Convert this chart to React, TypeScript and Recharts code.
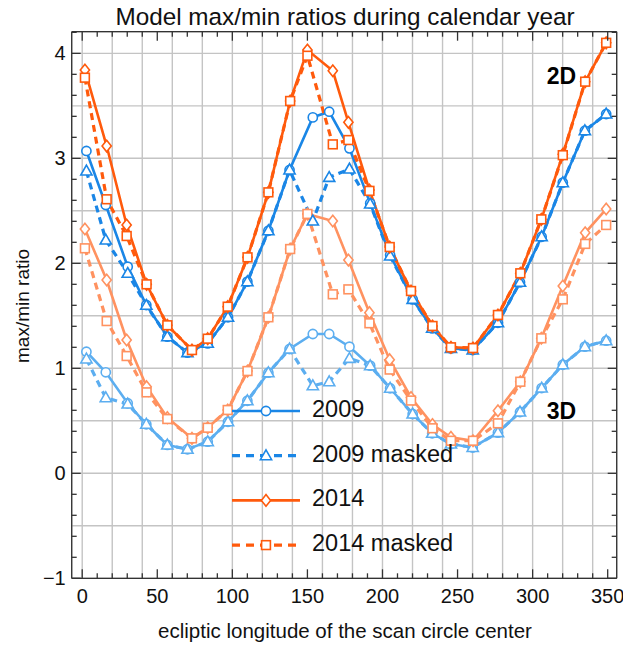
import React from 'react'
import { LineChart, Line, XAxis, YAxis, CartesianGrid } from 'recharts'

// ecliptic longitude of scan circle centres (deg)
const x2009 = [2.8, 15.7, 30.3, 42.7, 56.7, 70.1, 83.6, 97.1, 110, 124, 138.1, 153.6, 164.5, 178, 191.8, 205.1, 220.1, 233.1, 245.6, 260.1, 276.9, 291.6, 306, 320.1, 334.8, 349]
const x2014 = [1.8, 16.3, 29.6, 42.9, 56.7, 73.1, 83.6, 96.9, 110.1, 124, 138.5, 150, 166.9, 177.3, 191.3, 204.8, 219, 233.3, 245.6, 260.3, 276.9, 291.8, 305.8, 320.1, 335, 349]

// 2D ratios
const r2009 = [3.07, 2.555, 1.968, 1.603, 1.301, 1.149, 1.238, 1.486, 1.825, 2.31, 2.889, 3.39, 3.444, 3.095, 2.571, 2.079, 1.657, 1.381, 1.19, 1.174, 1.434, 1.819, 2.253, 2.768, 3.263, 3.422]
const r2009m = [2.879, 2.222, 1.905, 1.6, 1.301, 1.149, 1.238, 1.486, 1.825, 2.31, 2.889, 2.403, 2.819, 2.898, 2.565, 2.07, 1.657, 1.381, 1.19, 1.174, 1.434, 1.819, 2.253, 2.768, 3.263, 3.422]
const r2014 = [3.841, 3.117, 2.365, 1.8, 1.41, 1.174, 1.282, 1.587, 2.057, 2.676, 3.546, 4.031, 3.834, 3.343, 2.698, 2.155, 1.736, 1.403, 1.2, 1.193, 1.508, 1.905, 2.419, 3.038, 3.73, 4.1]
const r2014m = [3.768, 2.61, 2.26, 1.8, 1.41, 1.174, 1.282, 1.587, 2.057, 2.676, 3.546, 3.977, 3.133, 3.174, 2.69, 2.155, 1.736, 1.403, 1.2, 1.193, 1.508, 1.905, 2.419, 3.03, 3.73, 4.1]

// 3D ratios
const s2009 = [1.158, 0.962, 0.667, 0.467, 0.27, 0.229, 0.301, 0.491, 0.691, 0.958, 1.184, 1.327, 1.327, 1.206, 1.025, 0.81, 0.565, 0.381, 0.279, 0.246, 0.387, 0.584, 0.812, 1.034, 1.206, 1.263]
const s2009m = [1.089, 0.72, 0.66, 0.467, 0.27, 0.229, 0.301, 0.491, 0.691, 0.958, 1.184, 0.834, 0.872, 1.095, 1.025, 0.81, 0.565, 0.381, 0.279, 0.246, 0.387, 0.584, 0.812, 1.034, 1.206, 1.263]
const s2014 = [2.327, 1.841, 1.27, 0.825, 0.53, 0.333, 0.434, 0.603, 0.974, 1.486, 2.136, 2.47, 2.403, 2.031, 1.53, 1.082, 0.722, 0.465, 0.343, 0.31, 0.596, 0.872, 1.286, 1.784, 2.291, 2.517]
const s2014m = [2.143, 1.45, 1.117, 0.771, 0.517, 0.333, 0.434, 0.603, 0.974, 1.486, 2.136, 2.47, 1.705, 1.752, 1.429, 0.988, 0.693, 0.429, 0.31, 0.31, 0.476, 0.872, 1.286, 1.657, 2.185, 2.365]

const legendLabels = ['2009', '2009 masked', '2014', '2014 masked']

const BLUE = '#1a86e6'
const BLUE_L = '#5caef0'
const ORANGE = '#ff5a0c'
const ORANGE_L = '#ff9260'
const FONT = '"Liberation Sans", Arial, sans-serif'

const X_DOMAIN: [number, number] = [-7, 356]
const Y_DOMAIN: [number, number] = [-1, 4.206]

const xTicks = Array.from({ length: 36 }, (_, i) => i * 10)
const yTicks = Array.from({ length: 27 }, (_, i) => Math.round((-1 + i * 0.2) * 10) / 10)
const xGrid = Array.from({ length: 18 }, (_, i) => i * 20)
const yGrid = Array.from({ length: 10 }, (_, i) => -0.5 + i * 0.5)

const rows = (xs: number[], ys: number[]) => xs.map((x, i) => ({ x, y: ys[i] }))

type Shape = 'circle' | 'triangle' | 'diamond' | 'square'

function Marker({ shape, color, x, y }: { shape: Shape; color: string; x: number; y: number }) {
  const common = { fill: '#fff', stroke: color, strokeWidth: 1.6 }
  if (shape === 'circle') return <circle cx={x} cy={y} r={4.6} {...common} />
  if (shape === 'triangle')
    return <polygon points={`${x},${y - 5.8} ${x + 5.6},${y + 4} ${x - 5.6},${y + 4}`} {...common} />
  if (shape === 'diamond')
    return <polygon points={`${x},${y - 5.8} ${x + 4.6},${y} ${x},${y + 5.8} ${x - 4.6},${y}`} {...common} />
  return <rect x={x - 4.4} y={y - 4.4} width={8.8} height={8.8} {...common} />
}

const makeDot = (shape: Shape, color: string) => (p: any) => {
  const { cx, cy, index } = p
  if (cx == null || cy == null) return <g key={index} />
  return <Marker key={index} shape={shape} color={color} x={cx} y={cy} />
}

const isMajor = (v: number, step: number) => Math.abs(v / step - Math.round(v / step)) < 1e-6

const BottomTick = (p: any) => {
  const v = p.payload.value
  const major = isMajor(v, 50)
  return (
    <g>
      <line x1={p.x} x2={p.x} y1={p.y} y2={p.y - (major ? 9 : 5)} stroke="#333" strokeWidth={1.3} />
      {major && (
        <text x={p.x} y={p.y + 25} textAnchor="middle" fontSize={20} fontFamily={FONT} fill="#111">
          {v}
        </text>
      )}
    </g>
  )
}
const TopTick = (p: any) => {
  const major = isMajor(p.payload.value, 50)
  return <line x1={p.x} x2={p.x} y1={p.y} y2={p.y + (major ? 9 : 5)} stroke="#333" strokeWidth={1.3} />
}
const LeftTick = (p: any) => {
  const v = p.payload.value
  const major = isMajor(v, 1)
  return (
    <g>
      <line x1={p.x} x2={p.x + (major ? 9 : 5)} y1={p.y} y2={p.y} stroke="#333" strokeWidth={1.3} />
      {major && (
        <text x={p.x - 6} y={p.y + 7} textAnchor="end" fontSize={20} fontFamily={FONT} fill="#111">
          {v < 0 ? '\u2212' + Math.abs(v) : v}
        </text>
      )}
    </g>
  )
}
const RightTick = (p: any) => {
  const major = isMajor(p.payload.value, 1)
  return <line x1={p.x} x2={p.x - (major ? 9 : 5)} y1={p.y} y2={p.y} stroke="#333" strokeWidth={1.3} />
}

const series = [
  { data: rows(x2009, s2009), color: BLUE_L, shape: 'circle' as Shape, dash: undefined },
  { data: rows(x2009, s2009m), color: BLUE_L, shape: 'triangle' as Shape, dash: '7 5' },
  { data: rows(x2014, s2014), color: ORANGE_L, shape: 'diamond' as Shape, dash: undefined },
  { data: rows(x2014, s2014m), color: ORANGE_L, shape: 'square' as Shape, dash: '7 5' },
  { data: rows(x2009, r2009), color: BLUE, shape: 'circle' as Shape, dash: undefined },
  { data: rows(x2009, r2009m), color: BLUE, shape: 'triangle' as Shape, dash: '7 5' },
  { data: rows(x2014, r2014), color: ORANGE, shape: 'diamond' as Shape, dash: undefined },
  { data: rows(x2014, r2014m), color: ORANGE, shape: 'square' as Shape, dash: '7 5' },
]

const legendItems: { shape: Shape; color: string; dash?: string }[] = [
  { shape: 'circle', color: BLUE },
  { shape: 'triangle', color: BLUE, dash: '8 6' },
  { shape: 'diamond', color: ORANGE },
  { shape: 'square', color: ORANGE, dash: '8 6' },
]

function Overlay() {
  return (
    <svg width={623} height={646} style={{ position: 'absolute', left: 0, top: 0, pointerEvents: 'none' }}>
      <text x={345} y={25} textAnchor="middle" fontSize={24.3} fontFamily={FONT} fill="#111">
        Model max/min ratios during calendar year
      </text>
      <text x={345} y={638} textAnchor="middle" fontSize={20.5} fontFamily={FONT} fill="#111">
        ecliptic longitude of the scan circle center
      </text>
      <text x={29} y={306} textAnchor="middle" fontSize={19} fontFamily={FONT} fill="#111" transform="rotate(-90 29 306)">
        max/min ratio
      </text>
      <text x={561.5} y={83.5} textAnchor="middle" fontSize={23} fontWeight="bold" fontFamily={FONT} fill="#000">
        2D
      </text>
      <text x={561.5} y={418.5} textAnchor="middle" fontSize={23} fontWeight="bold" fontFamily={FONT} fill="#000">
        3D
      </text>
      {legendItems.map((it, i) => {
        const y = 411 + i * 44.7
        return (
          <g key={i}>
            <line x1={232} x2={300} y1={y} y2={y} stroke={it.color} strokeWidth={it.dash ? 3.2 : 2.6} strokeDasharray={it.dash} />
            <Marker shape={it.shape} color={it.color} x={266} y={y} />
            <text x={312} y={y + 6} fontSize={23.5} fontFamily={FONT} fill="#111">
              {legendLabels[i]}
            </text>
          </g>
        )
      })}
    </svg>
  )
}

export default function App() {
  return (
    <div style={{ position: 'absolute', left: 0, top: 0, width: 623, height: 646, background: '#fff' }}>
      <LineChart width={623} height={646} margin={{ top: 30.7, left: 70.7, right: 5.3, bottom: 66.7 }}>
        <XAxis xAxisId="b" type="number" dataKey="x" domain={X_DOMAIN} allowDataOverflow ticks={xTicks}
          interval={0} height={1} tickSize={0} tickMargin={0} tickLine={false} tick={<BottomTick />}
          axisLine={{ stroke: '#333', strokeWidth: 1.3 }} />
        <XAxis xAxisId="t" orientation="top" type="number" dataKey="x" domain={X_DOMAIN} allowDataOverflow ticks={xTicks}
          interval={0} height={1} tickSize={0} tickMargin={0} tickLine={false} tick={<TopTick />}
          axisLine={{ stroke: '#333', strokeWidth: 1.3 }} />
        <YAxis yAxisId="l" type="number" domain={Y_DOMAIN} allowDataOverflow ticks={yTicks}
          interval={0} width={1} tickSize={0} tickMargin={0} tickLine={false} tick={<LeftTick />}
          axisLine={{ stroke: '#333', strokeWidth: 1.3 }} />
        <YAxis yAxisId="r" orientation="right" type="number" domain={Y_DOMAIN} allowDataOverflow ticks={yTicks}
          interval={0} width={1} tickSize={0} tickMargin={0} tickLine={false} tick={<RightTick />}
          axisLine={{ stroke: '#333', strokeWidth: 1.3 }} />
        <XAxis xAxisId="g" type="number" dataKey="x" domain={X_DOMAIN} allowDataOverflow ticks={xGrid} interval={0} height={0} hide />
        <YAxis yAxisId="g" type="number" domain={Y_DOMAIN} allowDataOverflow ticks={yGrid} interval={0} width={0} hide />
        <CartesianGrid xAxisId="g" yAxisId="g" stroke="#c4c4c4" strokeWidth={1.4} />
        {series.map((s, i) => (
          <Line key={i} xAxisId="b" yAxisId="l" data={s.data} dataKey="y" type="linear" stroke={s.color}
            strokeWidth={s.dash ? 3.2 : 2.6} strokeDasharray={s.dash} dot={makeDot(s.shape, s.color)}
            activeDot={false} isAnimationActive={false} />
        ))}
      </LineChart>
      <Overlay />
    </div>
  )
}
